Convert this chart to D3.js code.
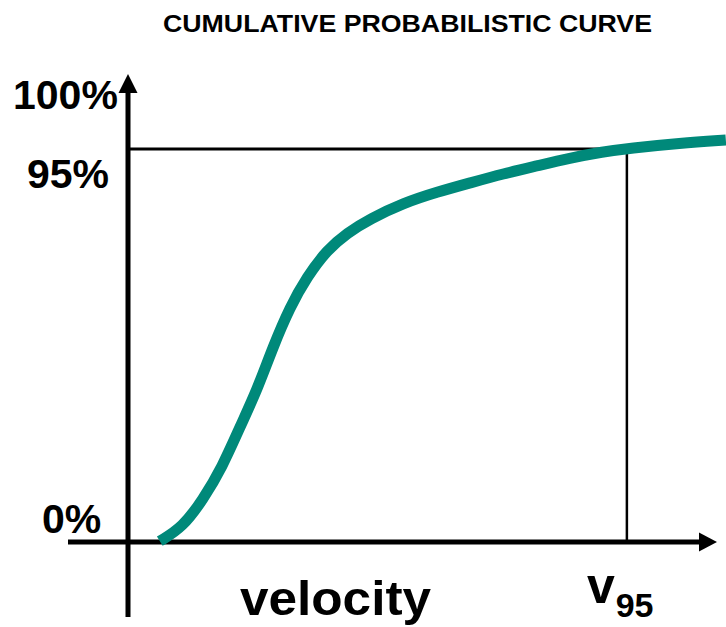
<!DOCTYPE html>
<html>
<head>
<meta charset="utf-8">
<script src="https://cdn.jsdelivr.net/npm/d3@7"></script>
<style>
  html, body { margin: 0; padding: 0; background: #fff; }
  svg { display: block; }
  text { font-family: "Liberation Sans", Arial, Helvetica, sans-serif; font-weight: bold; fill: #000; }
</style>
</head>
<body>
<svg id="chart" width="726" height="627"></svg>
<script>
// ---- data ----
const title = "CUMULATIVE PROBABILISTIC CURVE";
const xLabel = "velocity";
const v95Label = { main: "v", sub: "95" };
const yTickLabels = ["0%", "95%", "100%"];
const yTickValues = [0, 95, 100];
// cumulative curve: velocity (arbitrary units 0-100) vs cumulative probability (%)
const velocity = [5.4, 9.3, 12.7, 16.0, 19.0, 21.9, 24.6, 27.5, 30.4, 33.8, 37.2, 41.1, 46.7, 52.5, 58.1, 63.7, 69.4, 75.0, 80.6, 85.2, 93.7, 101.5];
const cumProb  = [0.2, 3.6, 10.2, 18.1, 27.8, 36.7, 47.1, 56.8, 64.1, 70.6, 74.7, 78.1, 81.9, 84.6, 86.8, 89.0, 90.9, 92.8, 94.3, 95.2, 96.4, 97.2];
const v95 = 84.7;
const p95 = 95;

// ---- layout ----
const svg = d3.select("#chart");
const x = d3.scaleLinear().domain([0, 100]).range([128, 717]);
const y = d3.scaleLinear().domain([0, 100]).range([542, 128.3]);

const teal = "#00897a";

// title
svg.append("text")
  .attr("x", 407.5).attr("y", 32)
  .attr("text-anchor", "middle")
  .attr("font-size", 24)
  .attr("textLength", 489).attr("lengthAdjust", "spacingAndGlyphs")
  .text(title);

// 95% reference lines
svg.append("line")
  .attr("x1", x(0)).attr("x2", x(v95) - 14)
  .attr("y1", y(p95)).attr("y2", y(p95))
  .attr("stroke", "#000").attr("stroke-width", 3);
svg.append("line")
  .attr("x1", x(v95)).attr("x2", x(v95))
  .attr("y1", y(p95)).attr("y2", y(0))
  .attr("stroke", "#000").attr("stroke-width", 2.5);

// axes
const axisW = 5;
svg.append("line")
  .attr("x1", x(0)).attr("x2", x(0))
  .attr("y1", 617).attr("y2", 90)
  .attr("stroke", "#000").attr("stroke-width", axisW);
svg.append("path")
  .attr("d", `M${x(0)},74 L${x(0) - 9.5},93 L${x(0) + 9.5},93 Z`)
  .attr("fill", "#000");
svg.append("line")
  .attr("x1", 68).attr("x2", x(100) - 16)
  .attr("y1", y(0)).attr("y2", y(0))
  .attr("stroke", "#000").attr("stroke-width", axisW);
svg.append("path")
  .attr("d", `M${x(100)},${y(0)} L${x(100) - 18},${y(0) - 9.5} L${x(100) - 18},${y(0) + 9.5} Z`)
  .attr("fill", "#000");

// curve
const pts = velocity.map((v, i) => [v, cumProb[i]]);
const line = d3.line().x(d => x(d[0])).y(d => y(d[1])).curve(d3.curveBasis);
svg.append("path")
  .datum(pts)
  .attr("d", line)
  .attr("fill", "none")
  .attr("stroke", teal)
  .attr("stroke-width", 11)
  .attr("stroke-linecap", "butt");

// y labels
const yLabelPos = [
  { x: 42, dy: -9 },   // 0%
  { x: 27, dy: 39 },   // 95%
  { x: 13, dy: -19 }   // 100%
];
yTickLabels.forEach((t, i) => {
  svg.append("text")
    .attr("x", yLabelPos[i].x)
    .attr("y", y(yTickValues[i]) + yLabelPos[i].dy)
    .attr("font-size", 41)
    .text(t);
});

// x label
svg.append("text")
  .attr("x", 240).attr("y", 615)
  .attr("font-size", 48)
  .attr("textLength", 191).attr("lengthAdjust", "spacingAndGlyphs")
  .text(xLabel);

// v95 label
const vt = svg.append("text").attr("x", x(v95) - 40).attr("y", 603).attr("font-size", 50);
vt.append("tspan").text(v95Label.main);
vt.append("tspan").attr("font-size", 34).attr("dx", 1).attr("dy", 14).text(v95Label.sub);
</script>
</body>
</html>
